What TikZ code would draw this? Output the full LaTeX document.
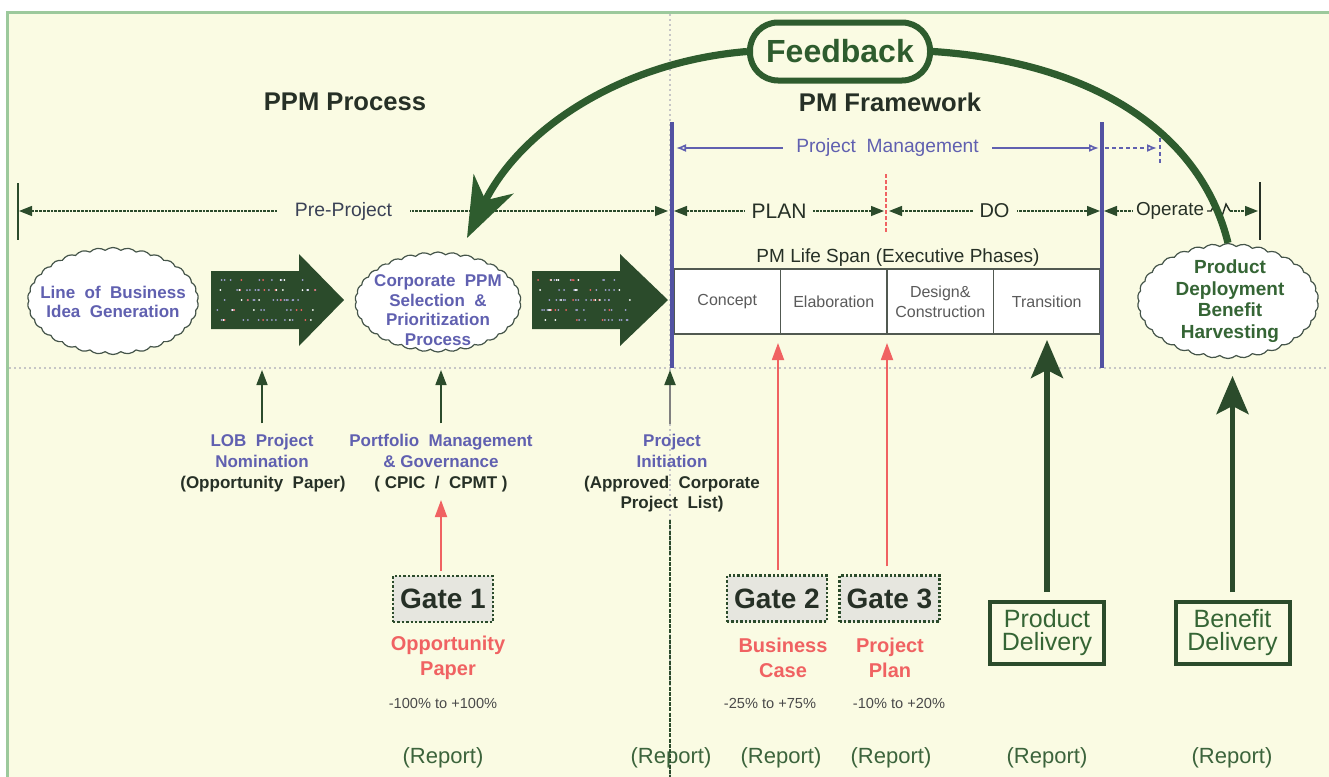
\documentclass[tikz,border=0pt]{standalone}
\usepackage{fontspec}
\setmainfont{Liberation Sans}
\usetikzlibrary{arrows.meta,shapes.symbols}
\definecolor{bg}{HTML}{FAFBE3}
\definecolor{frame}{HTML}{9CC99C}
\definecolor{dkgreen}{HTML}{2B4B2B}
\definecolor{fbgreen}{HTML}{2E5C2E}
\definecolor{txtgreen}{HTML}{356535}
\definecolor{pmblue}{HTML}{6060B0}
\definecolor{lineblue}{HTML}{5252A2}
\definecolor{gatered}{HTML}{F06262}
\definecolor{darktxt}{HTML}{263026}
\definecolor{phasegray}{HTML}{5A5A5A}
\definecolor{gatefill}{HTML}{E6E6DF}
\definecolor{pcttxt}{HTML}{4A4A4A}
\definecolor{reptxt}{HTML}{3C643C}
\definecolor{cloudline}{HTML}{45554A}
\newcommand\fsz[2]{\fontsize{#1}{#2}\selectfont}
\tikzset{
  title/.style={font=\fsz{12.8pt}{15pt}\bfseries, text=darktxt, inner sep=0pt},
  fbbox/.style={draw=fbgreen, line width=3pt, rounded corners=14pt, fill=bg,
    minimum width=90pt, minimum height=29pt, text=fbgreen, font=\fsz{16pt}{18pt}\bfseries},
  cloudbox/.style={cloud, cloud puffs=34, cloud puff arc=80, draw=cloudline, line width=0.6pt,
    fill=white, inner sep=0pt},
  cloudtxt/.style={font=\fsz{8.5pt}{9.8pt}\bfseries, align=center, inner sep=0pt},
  dim/.style={dkgreen, line width=0.7pt, dash pattern=on 1.4pt off 0.5pt},
  dimlbl/.style={fill=bg, inner ysep=2pt, text=darktxt, font=\fsz{9.7pt}{11pt}},
  phase/.style={draw=darktxt!80, line width=0.8pt, fill=white, minimum width=53.25pt,
    minimum height=32.5pt, inner sep=1pt, text=phasegray, font=\fsz{8pt}{10pt}, align=center},
  lbl/.style={font=\fsz{8.5pt}{10.5pt}\bfseries, text=pmblue, align=center, inner sep=0pt},
  paren/.style={font=\fsz{8.5pt}{9.8pt}\bfseries, text=darktxt, align=center, inner sep=0pt},
  smallarr/.style={dkgreen, line width=0.8pt, shorten <=5pt, -{Triangle[length=7.5pt,width=5.5pt]}},
  gatebox/.style={draw=dkgreen, densely dotted, line width=1.2pt, fill=gatefill,
    minimum width=50pt, minimum height=23pt, text=darktxt, font=\fsz{14pt}{16pt}\bfseries},
  redarr/.style={gatered, line width=0.9pt, -{Triangle[length=8.5pt,width=6pt]}},
  redtxt/.style={font=\fsz{10pt}{12.5pt}\bfseries, text=gatered, align=center, inner sep=0pt},
  pct/.style={font=\fsz{7.3pt}{9pt}, text=pcttxt, inner sep=0pt},
  rep/.style={font=\fsz{11pt}{13pt}, text=reptxt, inner sep=0pt},
  delbox/.style={draw=dkgreen, line width=2pt, fill=bg, minimum width=57pt, minimum height=31pt,
    inner sep=0pt, text=txtgreen, font=\fsz{12.5pt}{11.5pt}, align=center},
  bigarr/.style={dkgreen, line width=2.6pt, shorten <=4pt, -{Stealth[length=19pt,width=16pt,inset=4pt]}},
  fbline/.style={fbgreen, line width=3.6pt}
}
\begin{document}
\begin{tikzpicture}[x=0.5pt,y=-0.5pt]
\useasboundingbox (0,0) rectangle (1329,777);
\fill[white] (0,0) rectangle (1329,777);
\fill[bg] (7,12) rectangle (1329,777);
\draw[frame, line width=1.2pt] (7.5,777) -- (7.5,12.5) -- (1329,12.5);
\draw[gray!45, line width=0.6pt, dash pattern=on 1pt off 1.5pt] (9,368) -- (1329,368);
\draw[gray!45, line width=0.6pt, dash pattern=on 1pt off 1.5pt] (670,14) -- (670,777);

% titles
\node[title] (ppm) at (345,102) {PPM Process};
\node[title] (pmf) at (890,102) {PM Framework};

% clouds
\node[cloudbox, minimum width=85.5pt, minimum height=53.5pt] (lobc) at (113,301) {};
\node[cloudtxt, text=pmblue] (lobct) at (113,302) {Line\ \ of\ \ Business\\Idea\ \ Generation};
\node[cloudbox, minimum width=83pt, minimum height=50pt] (cpc) at (438,302) {};
\node[cloudtxt, text=pmblue] (cpct) at (438,310) {Corporate\ \ PPM\\Selection\ \ \&\\Prioritization\\Process};
\node[cloudbox, minimum width=90.5pt, minimum height=57.5pt] (pdc) at (1228,301) {};
\node[cloudtxt, text=txtgreen, font=\fsz{9.5pt}{10.8pt}\bfseries] (pdct) at (1230,301) {Product\\Deployment\\Benefit\\Harvesting};

% block arrows
\fill[dkgreen] (211,271) -- (299,271) -- (299,254) -- (344,300) -- (299,346) -- (299,329) -- (211,329) -- cycle;
\fill[dkgreen] (532,271) -- (620,271) -- (620,254) -- (668,300) -- (620,346) -- (620,329) -- (532,329) -- cycle;
\pgfmathsetseed{5}
\foreach \xo in {211,532}{
  \foreach \c/\n in {pmblue!60!white/48, gatered/14, white/16}{
    \foreach \k in {1,...,\n}{
      \pgfmathsetmacro\rx{\xo+5+100*rnd}
      \pgfmathsetmacro\ry{280+10*random(0,4)}
      \fill[\c] (\rx,\ry) circle (0.5pt);
    }
  }
}

% Pre-Project dimension
\draw[dkgreen, line width=1.4pt] (18,183) -- (18,240);
\coordinate (ppL) at (19,211);
\coordinate (ppR) at (668,211);
\draw[dim, {Triangle[length=6.5pt,width=5pt]}-{Triangle[length=6.5pt,width=5pt]}] (ppL) -- node[dimlbl, inner xsep=9pt, text=darktxt!65!pmblue] (pplbl) {Pre-Project} (ppR);

% phase table
\node[phase] (ph1) at (727.25,301.5) {Concept};
\node[phase] (ph2) at (833.75,301.5) {Elaboration};
\node[phase] (ph3) at (940.25,301.5) {Design\&\\Construction};
\node[phase] (ph4) at (1046.75,301.5) {Transition};
\node[font=\fsz{9.5pt}{11pt}, text=darktxt, inner sep=0pt] (span) at (898,258) {PM Life Span (Executive Phases)};

% blue verticals
\draw[lineblue, line width=1.6pt] (672,122) -- (672,368);
\draw[lineblue, line width=1.6pt] (1102,122) -- (1102,368);

% Project Management
\coordinate (pmL) at (676,148);
\coordinate (pmR) at (1099,148);
\draw[pmblue, line width=0.8pt, {Latex[open,length=5pt,width=4pt]}-{Latex[open,length=5pt,width=4pt]}] (pmL) -- node[fill=bg, inner xsep=6.5pt, inner ysep=2pt, text=pmblue, font=\fsz{9.6pt}{11pt}] (pmlbl) {Project\ \ Management} (pmR);
\coordinate (pmdA) at (1105,148);
\coordinate (pmdB) at (1157,148);
\draw[pmblue, line width=0.8pt, dash pattern=on 2pt off 1.5pt, -{Latex[open,length=5pt,width=4pt]}] (pmdA) -- (pmdB);
\draw[pmblue, line width=0.8pt, dash pattern=on 2pt off 1.5pt] (1160,138) -- (1160,165);

% PLAN / DO / Operate
\coordinate (plL) at (674,211);
\coordinate (plR) at (884,211);
\draw[dim, {Triangle[length=6.5pt,width=5pt]}-{Triangle[length=6.5pt,width=5pt]}] (plL) -- node[dimlbl, inner xsep=3.5pt, font=\fsz{10.5pt}{12pt}] (plan) {PLAN} (plR);
\draw[gatered, line width=0.8pt, dash pattern=on 2pt off 1pt] (886,174) -- (886,233);
\coordinate (doL) at (889,211);
\coordinate (doR) at (1100,211);
\draw[dim, {Triangle[length=6.5pt,width=5pt]}-{Triangle[length=6.5pt,width=5pt]}] (doL) -- node[dimlbl, inner xsep=3.5pt, font=\fsz{10pt}{12pt}] (do) {DO} (doR);
\coordinate (opL) at (1104,211);
\node[dimlbl, inner xsep=0pt, font=\fsz{9.4pt}{11pt}] (oplbl) at (1170,211) {Operate};
\draw[dim, {Triangle[length=6.5pt,width=5pt]}-] (opL) -- ([xshift=-1.5pt]oplbl.west);
\draw[darktxt, line width=0.7pt] (1207,211) -- (1211,211) -- (1216,202) -- (1221,219) -- (1226,204) -- (1230,211);
\coordinate (opS) at (1230,211);
\coordinate (opR) at (1258,211);
\draw[dim, -{Triangle[length=6.5pt,width=5pt]}] (opS) -- (opR);
\draw[darktxt, line width=0.8pt] (1260,182) -- (1260,240);

% labels below
\node[lbl] (lob) at (262,450.5) {LOB\ \ Project\\Nomination};
\node[paren] (lobp) at (263,484.5) {(Opportunity\ \ Paper)};
\node[lbl] (pf) at (441,450.5) {Portfolio\ \ Management\\\&\ Governance};
\node[paren] (pfp) at (441,484) {(\ CPIC\ \ /\ \ CPMT\ )};
\node[lbl] (pil) at (672,451) {Project\\Initiation};
\node[paren] (pip) at (672,494) {(Approved\ \ Corporate\\Project\ \ List)};

\coordinate (lobtip) at (262,370);
\coordinate (pftip) at (441,370);
\coordinate (pitip) at (670,370);
\draw[smallarr] (lob.north) -- (lobtip);
\draw[smallarr] (pf.north) -- (pftip);
\draw[gray, line width=1pt, shorten <=5pt, -{Triangle[length=7.5pt,width=5.5pt,color=dkgreen]}] (pil.north -| pitip) -- (pitip);
\coordinate (pibot) at (670,777);
\draw[dkgreen, line width=0.9pt, dash pattern=on 2pt off 0.6pt, shorten <=4pt] (pip.south -| pibot) -- (pibot);

% gates
\node[gatebox] (g1) at (443,599) {Gate 1};
\node[gatebox] (g2) at (777,598.5) {Gate 2};
\node[gatebox] (g3) at (889.5,598.5) {Gate 3};
\coordinate (g1tip) at (441,500);
\coordinate (g2tip) at (778,343);
\coordinate (g3tip) at (887,343);
\draw[redarr, shorten <=2pt] (g1.north -| g1tip) -- (g1tip);
\draw[redarr, shorten <=2pt] (g2.north -| g2tip) -- (g2tip);
\draw[redarr, shorten <=4pt] (g3.north -| g3tip) -- (g3tip);

\node[redtxt] (opp) at (448,657.5) {Opportunity\\Paper};
\node[redtxt] (bc) at (783,657.5) {Business\\Case};
\node[redtxt] (pp) at (890,657.5) {Project\\Plan};
\node[pct] (pct1) at (443,703) {-100\% to +100\%};
\node[pct] (pct2) at (770,703) {-25\% to +75\%};
\node[pct] (pct3) at (899,703) {-10\% to +20\%};

% deliveries
\node[delbox] (pdel) at (1047,633) {Product\\Delivery};
\node[delbox] (bdel) at (1232.5,633) {Benefit\\Delivery};
\coordinate (pdeltip) at (1047,340);
\coordinate (bdeltip) at (1232.5,376);
\draw[bigarr] (pdel.north) -- (pdeltip);
\draw[bigarr] (bdel.north) -- (bdeltip);

% reports
\node[rep] (r1) at (443,758) {(Report)};
\node[rep] (r2) at (671,758) {(Report)};
\node[rep] (r3) at (781,758) {(Report)};
\node[rep] (r4) at (891,758) {(Report)};
\node[rep] (r5) at (1047,758) {(Report)};
\node[rep] (r6) at (1232,758) {(Report)};

% feedback
\node[fbbox] (fb) at (840,51.5) {Feedback};
\coordinate (fbtip) at (467,238);
\draw[fbline, -{Stealth[length=30pt,width=22pt,inset=9pt]}] (fb.west) .. controls (620,62) and (520,130) .. (fbtip);
\draw[fbline] (fb.east) .. controls (1090,62) and (1200,130) .. (pdc.north);
\end{tikzpicture}
\end{document}
